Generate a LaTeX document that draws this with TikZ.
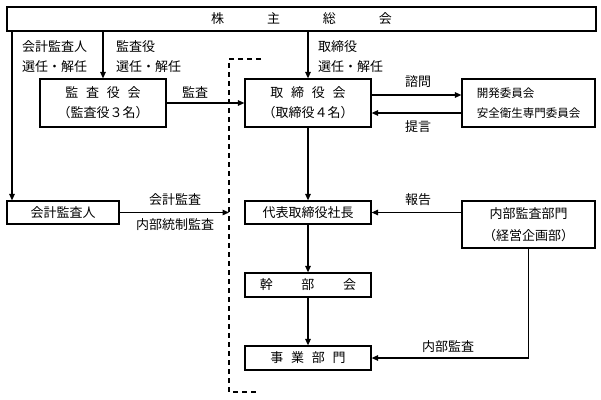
\documentclass[tikz,border=0pt]{standalone}
\usepackage{fontspec}
\setmainfont{Noto Sans CJK JP}
\usetikzlibrary{arrows.meta}

\begin{document}
\begin{tikzpicture}[x=1pt, y=-1pt, >={Triangle[length=6.5pt,width=5.5pt]},
	box/.style={draw, line width=1.2pt, inner sep=0pt, align=center, font=\fontsize{13}{20}\selectfont},
	lbl/.style={inner sep=0pt, align=left, font=\fontsize{13}{20}\selectfont},
	link/.style={->, line width=1.2pt},
	bracket/.style={line width=1.2pt, dash pattern=on 5pt off 4pt}]
	% Fix the page to the size of the reference
	\useasboundingbox (0,0) rectangle (601,399);
	
	% Shareholders' meeting across the top
	\node[box, minimum width=589pt, minimum height=24pt] (share) at (301.5,19)
	{株\hspace{3.3em}主\hspace{3.3em}総\hspace{3.3em}会};
	
	% Boxes of the left column
	\node[box, minimum width=126pt, minimum height=48pt] (kansa) at (103,103)
	{監\hspace{.6em}査\hspace{.6em}役\hspace{.6em}会\\（監査役３名）};
	\node[box, minimum width=112pt, minimum height=23pt] (kaikei) at (63,212.5) {会計監査人};
	
	% Boxes of the middle column
	\node[box, minimum width=126pt, minimum height=48pt] (torishimari) at (308,103)
	{取\hspace{.6em}締\hspace{.6em}役\hspace{.6em}会\\（取締役４名）};
	\node[box, minimum width=126pt, minimum height=23pt] (daihyo) at (308,212.5) {代表取締役社長};
	\node[box, minimum width=126pt, minimum height=24pt] (kanbu) at (308,285)
	{幹\hspace{2.2em}部\hspace{2.2em}会};
	\node[box, minimum width=126pt, minimum height=24pt] (jigyo) at (308,358)
	{事\hspace{.6em}業\hspace{.6em}部\hspace{.6em}門};
	
	% Boxes of the right column
	\node[box, minimum width=133pt, minimum height=48pt, align=left, font=\fontsize{11.5}{20}\selectfont]
	(kaihatsu) at (528.5,103) {開発委員会\\安全衛生専門委員会};
	\node[box, minimum width=133pt, minimum height=47pt] (naibu) at (528.5,224.5)
	{内部監査部門\\[2pt]（経営企画部）};
	
	% Dashed bracket in front of the executive side
	\coordinate (dtop) at (229,59);
	\coordinate (dbot) at (229,392);
	\draw[bracket] (261,59) -- (dtop) -- (dbot) -- (259,392);
	
	% Appointment lines from the shareholders' meeting
	\coordinate (xl) at (12,0);
	\draw[link] (share.south -| xl) -- (kaikei.north -| xl);
	\draw[link] (share.south -| kansa.north) -- (kansa.north);
	\draw[link] (share.south -| torishimari.north) -- (torishimari.north);
	\node[lbl, anchor=west] (lblkaikei) at (22,57) {会計監査人\\選任・解任};
	\node[lbl, anchor=west] (lblkansa) at (116,57) {監査役\\選任・解任};
	\node[lbl, anchor=west] (lbltori) at (318,57) {取締役\\選任・解任};
	
	% Audits from the left column
	\draw[link] (kansa.east) -- (torishimari.west);
	\node[lbl] (lblaudit) at (195,92) {監査};
	\draw[link] (kaikei.east) -- (kaikei.east -| dtop);
	\node[lbl] (lblacc) at (175,200) {会計監査};
	\node[lbl] (lblctrl) at (175,225) {内部統制監査};
	
	% Consultation with the committees
	\draw[link] ([yshift=8pt]torishimari.east) -- ([yshift=8pt]kaihatsu.west);
	\draw[link] ([yshift=-10pt]kaihatsu.west) -- ([yshift=-10pt]torishimari.east);
	\node[lbl] (lblask) at (418,82) {諮問};
	\node[lbl] (lblprop) at (418,127) {提言};
	
	% Chain of command down the middle
	\draw[link] (torishimari.south) -- (daihyo.north);
	\draw[link] (daihyo.south) -- (kanbu.north);
	\draw[link] (kanbu.south) -- (jigyo.north);
	
	% Internal audit department
	\draw[link] (naibu.west |- daihyo.east) -- (daihyo.east);
	\node[lbl] (lblrep) at (418,200) {報告};
	\draw[link] (naibu.south) -- (naibu.south |- jigyo.east) -- (jigyo.east);
	\node[lbl] (lblint) at (448,347) {内部監査};
\end{tikzpicture}
\end{document}
